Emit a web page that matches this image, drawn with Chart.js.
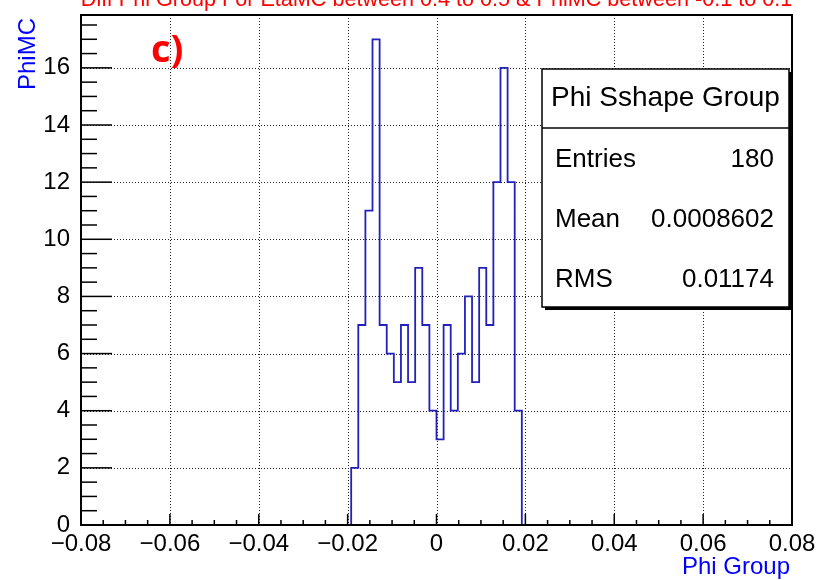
<!DOCTYPE html>
<html>
<head>
<meta charset="utf-8">
<script src="https://cdn.jsdelivr.net/npm/chart.js@4.4.1/dist/chart.umd.min.js"></script>
<style>
  html, body { margin: 0; padding: 0; background: #fff; }
  #wrap { width: 817px; height: 580px; position: relative; }
</style>
</head>
<body>
<div id="wrap"><canvas id="histo"></canvas></div>
<script>
// Histogram definition (100 bins from -0.08 to 0.08, only bins 38..61 filled)
const titleText = 'Diff Phi Group For EtaMC between 0.4 to 0.5 & PhiMC between -0.1 to 0.1';
const xMin = -0.08;
const xMax = 0.08;
const nBins = 100;
const firstBin = 38;
const counts = [2, 7, 11, 17, 7, 6, 5, 7, 5, 9, 7, 4, 3, 7, 4, 6, 8, 5, 9, 7, 12, 16, 12, 4];
const yMax = 17.85;
const xTicks = [-0.08, -0.06, -0.04, -0.02, 0, 0.02, 0.04, 0.06, 0.08];
const yTicks = [0, 2, 4, 6, 8, 10, 12, 14, 16];

const statsTitle = 'Phi Sshape Group';
const statsLabels = ['Entries', 'Mean', 'RMS'];
const statsValues = ['180', '0.0008602', '0.01174'];

const FONT = '"Liberation Sans", Arial, Helvetica, sans-serif';

// stepped line points: left edge of each bin
function buildPoints() {
    const w = (xMax - xMin) / nBins;
    const pts = [{ x: xMin, y: 0 }];
    counts.forEach((c, i) => {
        pts.push({ x: xMin + (firstBin + i) * w, y: c });
    });
    pts.push({ x: xMin + (firstBin + counts.length) * w, y: 0 });
    pts.push({ x: xMax, y: 0 });
    return pts;
}

function fmtX(v) {
    if (Math.abs(v) < 1e-9) return '0';
    return (v < 0 ? '\u2212' : '') + Math.abs(v).toFixed(2);
}

function noPadding(scale) {
    scale.paddingTop = 0;
    scale.paddingBottom = 0;
    scale.paddingLeft = 0;
    scale.paddingRight = 0;
}

// Grille pointillée
const gridPlugin = {
    id: 'rootGrid',
    beforeDatasetsDraw(chart) {
        const { ctx, chartArea: a, scales: { x, y } } = chart;
        ctx.save();
        ctx.strokeStyle = '#222';
        ctx.lineWidth = 1;
        ctx.setLineDash([1, 2]);
        xTicks.slice(1, -1).forEach(v => {
            const px = Math.round(x.getPixelForValue(v)) + 0.5;
            ctx.beginPath();
            ctx.moveTo(px, a.top);
            ctx.lineTo(px, a.bottom);
            ctx.stroke();
        });
        yTicks.slice(1).forEach(v => {
            const py = Math.round(y.getPixelForValue(v)) + 0.5;
            ctx.beginPath();
            ctx.moveTo(a.left, py);
            ctx.lineTo(a.right, py);
            ctx.stroke();
        });
        ctx.restore();
    }
};

// Cadre, graduations, textes et boîte de statistiques
const framePlugin = {
    id: 'rootFrame',
    afterDatasetsDraw(chart) {
        const { ctx, chartArea: a, scales: { x, y } } = chart;
        ctx.save();
        ctx.strokeStyle = '#000';
        ctx.lineWidth = 1.5;

        // x ticks
        for (let v = xMin; v <= xMax + 1e-9; v += 0.005) {
            const px = x.getPixelForValue(v);
            const major = Math.abs(Math.round(v / 0.02) * 0.02 - v) < 1e-6;
            ctx.beginPath();
            ctx.moveTo(px, a.bottom);
            ctx.lineTo(px, a.bottom - (major ? 11 : 5));
            ctx.stroke();
        }
        // y ticks
        for (let v = 0; v <= yMax; v += 0.5) {
            const py = y.getPixelForValue(v);
            const major = Math.abs(v % 2) < 1e-6;
            ctx.beginPath();
            ctx.moveTo(a.left, py);
            ctx.lineTo(a.left + (major ? 31 : 16), py);
            ctx.stroke();
        }

        // frame
        ctx.lineWidth = 2;
        ctx.strokeRect(a.left, a.top, a.right - a.left, a.bottom - a.top);

        // title (cut at the top of the canvas)
        ctx.fillStyle = '#ff0000';
        ctx.font = '21.6px ' + FONT;
        ctx.textAlign = 'center';
        ctx.textBaseline = 'alphabetic';
        ctx.fillText(titleText, (a.left + a.right) / 2, 6);

        // axis titles
        ctx.fillStyle = '#0000ff';
        ctx.font = '24px ' + FONT;
        ctx.textAlign = 'right';
        ctx.textBaseline = 'middle';
        ctx.fillText('Phi Group', 790, 567);
        ctx.save();
        ctx.translate(28, 18);
        ctx.rotate(-Math.PI / 2);
        ctx.textAlign = 'right';
        ctx.fillText('PhiMC', 0, 0);
        ctx.restore();

        // label c)
        ctx.fillStyle = '#ff0000';
        ctx.font = 'bold 38px "Open Sans", ' + FONT;
        ctx.textAlign = 'left';
        ctx.textBaseline = 'alphabetic';
        ctx.fillText('c)', 151, 62);

        // stats box
        const bx = 542, by = 69, bw = 247, bh = 238;
        ctx.fillStyle = '#000';
        ctx.fillRect(bx + 3, by + 3, bw, bh);
        ctx.fillStyle = '#fff';
        ctx.fillRect(bx, by, bw, bh);
        ctx.lineWidth = 1.5;
        ctx.strokeRect(bx, by, bw, bh);
        ctx.beginPath();
        ctx.moveTo(bx, 128);
        ctx.lineTo(bx + bw, 128);
        ctx.stroke();

        ctx.fillStyle = '#000';
        ctx.font = '28px ' + FONT;
        ctx.textAlign = 'center';
        ctx.textBaseline = 'middle';
        ctx.fillText(statsTitle, bx + bw / 2, 98);

        ctx.font = '26px ' + FONT;
        statsLabels.forEach((lab, i) => {
            const ty = 160 + i * 60;
            ctx.textAlign = 'left';
            ctx.fillText(lab, 555, ty);
            ctx.textAlign = 'right';
            ctx.fillText(statsValues[i], 774, ty);
        });
        ctx.restore();
    }
};

new Chart(document.getElementById('histo'), {
    type: 'line',
    data: {
        datasets: [{
            data: buildPoints(),
            stepped: 'before',
            borderColor: '#2222bb',
            borderWidth: 1.8,
            pointRadius: 0,
            fill: false
        }]
    },
    options: {
        responsive: true,
        maintainAspectRatio: false,
        animation: false,
        events: [],
        layout: { padding: { left: 0, top: 15, right: 25, bottom: 0 } },
        plugins: { legend: { display: false }, tooltip: { enabled: false } },
        scales: {
            x: {
                type: 'linear',
                min: xMin,
                max: xMax,
                grid: { display: false, drawTicks: false },
                border: { display: false },
                afterBuildTicks: scale => { scale.ticks = xTicks.map(v => ({ value: v })); },
                afterFit: scale => { scale.height = 55; noPadding(scale); },
                ticks: {
                    autoSkip: false,
                    maxRotation: 0,
                    padding: 5,
                    color: '#000',
                    font: { family: FONT, size: 24 },
                    callback: v => fmtX(v)
                }
            },
            y: {
                type: 'linear',
                min: 0,
                max: yMax,
                grid: { display: false, drawTicks: false },
                border: { display: false },
                afterBuildTicks: scale => { scale.ticks = yTicks.map(v => ({ value: v })); },
                afterFit: scale => { scale.width = 81; noPadding(scale); },
                ticks: {
                    padding: 11,
                    color: '#000',
                    font: { family: FONT, size: 24 }
                }
            }
        }
    },
    plugins: [gridPlugin, framePlugin]
});
</script>
</body>
</html>
